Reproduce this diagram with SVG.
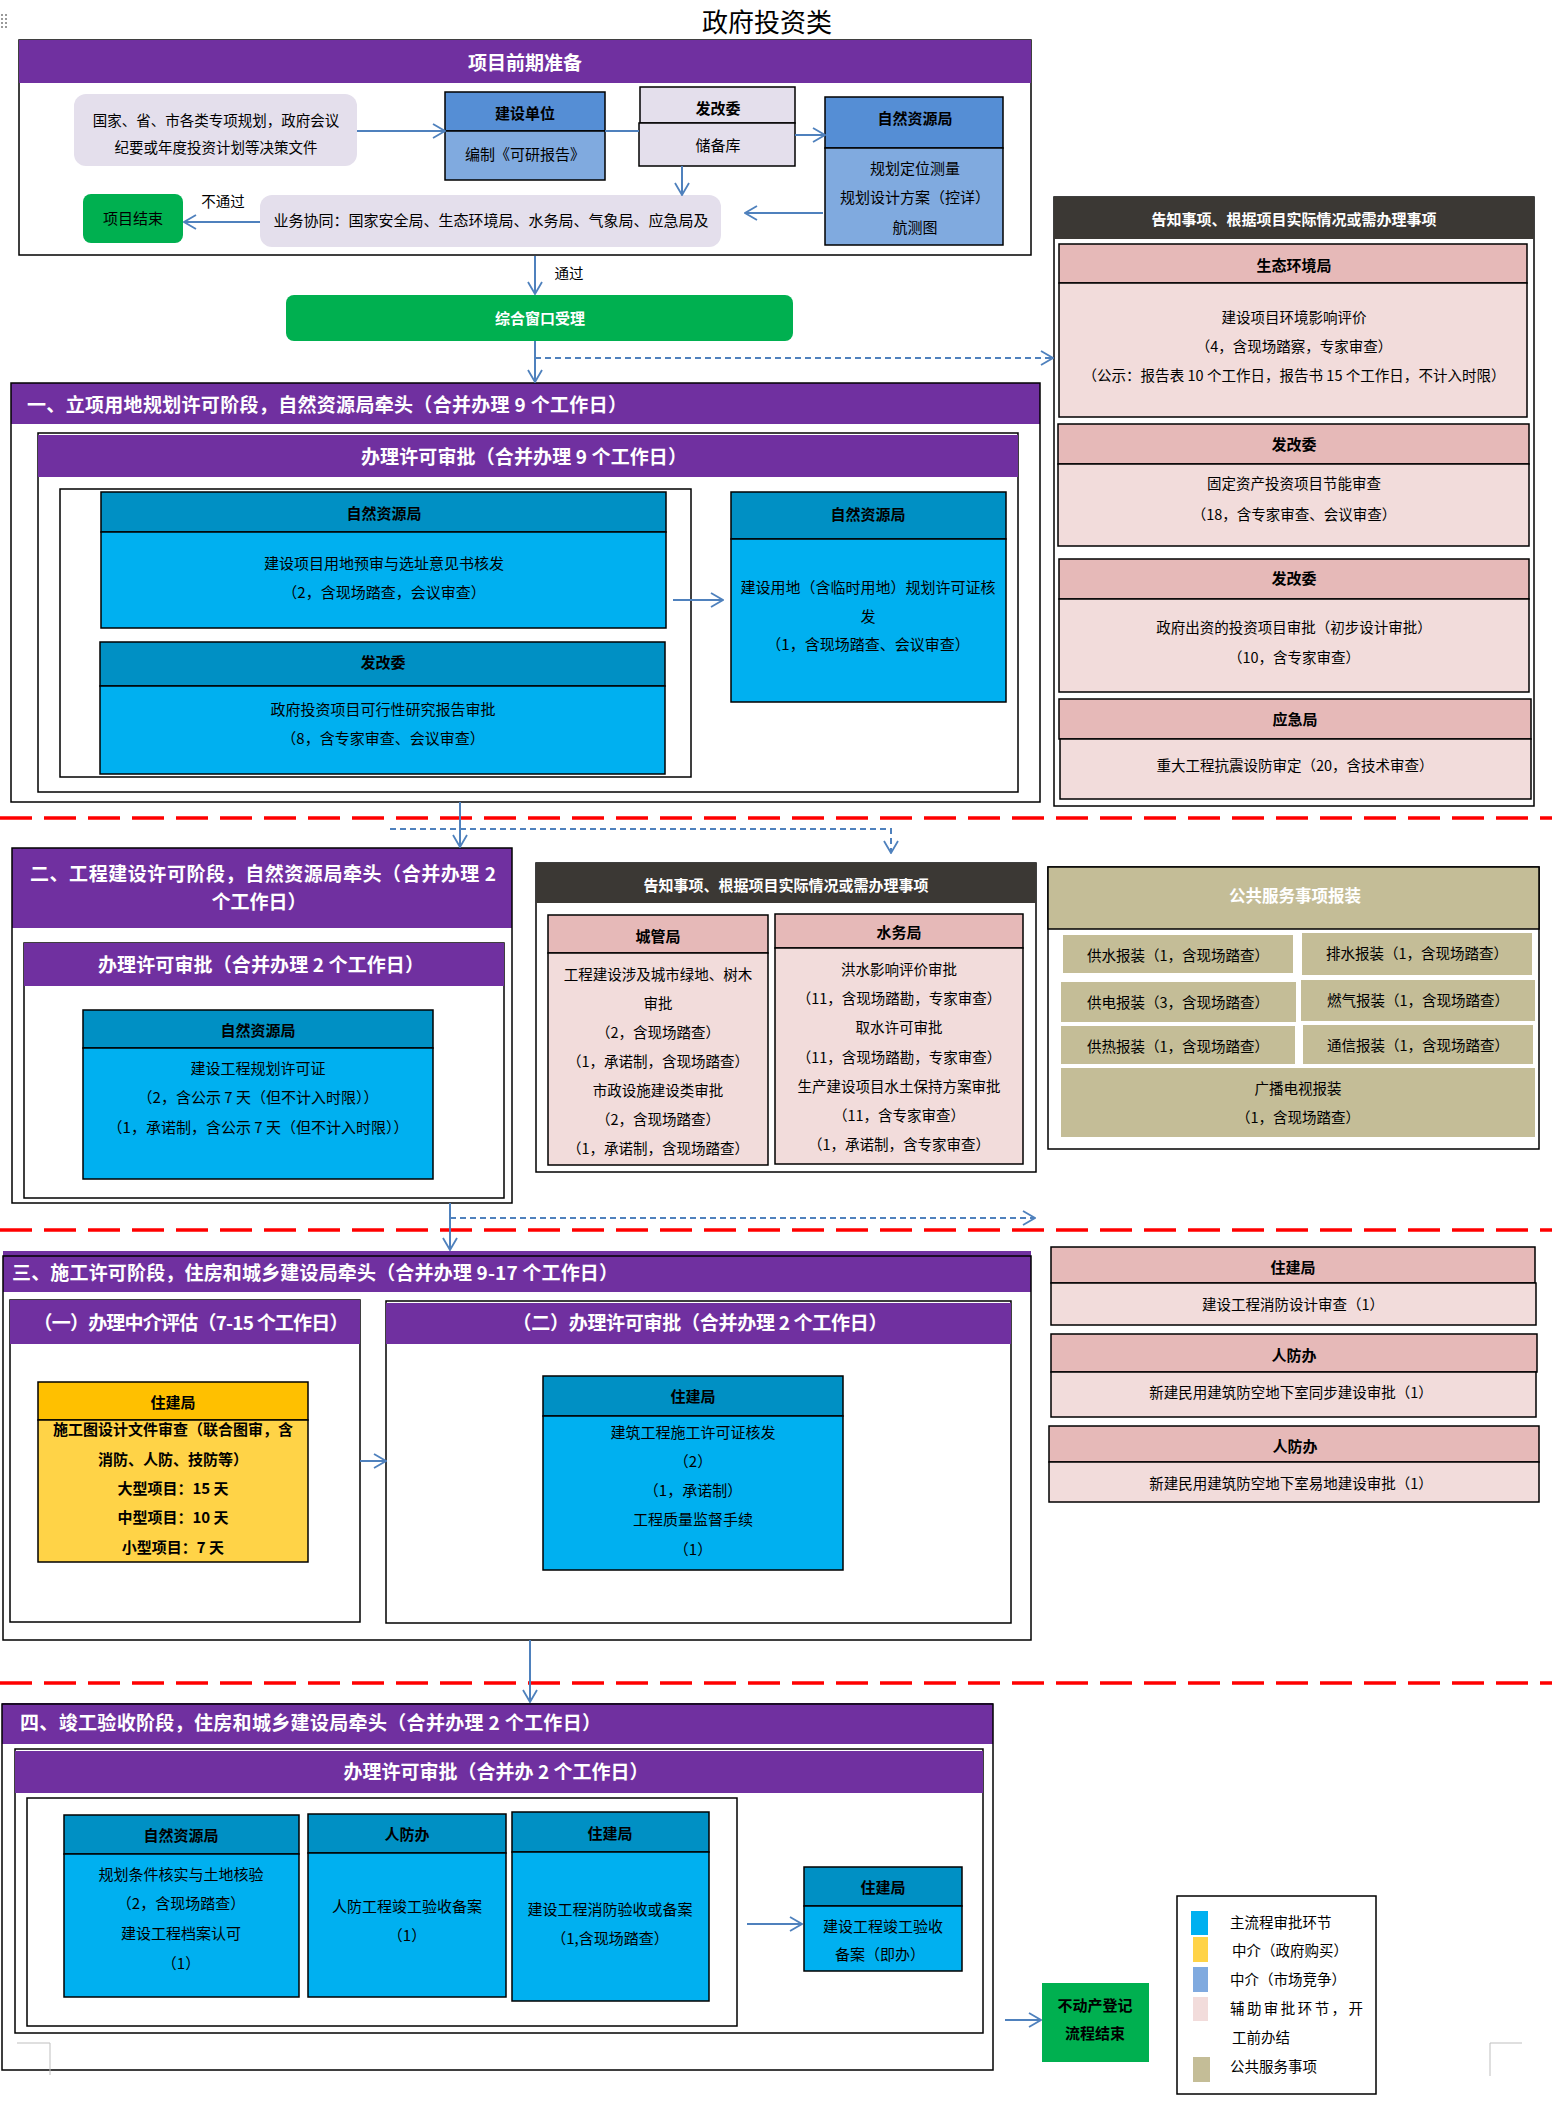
<svg xmlns="http://www.w3.org/2000/svg" width="1552" height="2105" viewBox="0 0 1552 2105">
<style>
text{font-family:"Noto Sans CJK SC","Liberation Sans",sans-serif;dominant-baseline:central;fill:#000;font-size:15px;text-anchor:middle}
.l{text-anchor:start}
.b{font-weight:bold}
.w{fill:#fff}
.h{font-size:19px;font-weight:bold;fill:#fff}
.s{font-size:14.5px}
.tt{font-size:26px}
.ph{font-size:16.5px}
.bx{stroke:#000;stroke-width:1.5}
.ol{fill:none;stroke:#000;stroke-width:1.5}
.pu{fill:#7030A0}
.dk{fill:#3B3834}
.c1{fill:#0090C4}
.c2{fill:#00B0F0}
.m1{fill:#558ED5}
.m2{fill:#80AADF}
.lv{fill:#E4DFEC}
.p1{fill:#E6B9B8}
.p2{fill:#F2DCDB}
.kh{fill:#C4BD97}
.gr{fill:#00B050}
.y1{fill:#FFC000}
.y2{fill:#FFD347}
.ln{stroke:#4F81BD;stroke-width:2;fill:none}
.dl{stroke:#4F81BD;stroke-width:2;fill:none;stroke-dasharray:6 4}
.red{stroke:#FF0000;stroke-width:3.5;stroke-dasharray:32 12;fill:none}
.cm{stroke:#BFBFBF;stroke-width:1;fill:none}
</style>
<defs>
<marker id="a" viewBox="0 0 14 16" refX="13" refY="8" markerWidth="14" markerHeight="16" orient="auto" markerUnits="userSpaceOnUse"><path d="M1,1 L13,8 L1,15" fill="none" stroke="#4F81BD" stroke-width="1.8"/></marker>
</defs>
<rect width="1552" height="2105" fill="#fff"/>
<g id="handle" fill="#9A9A9A">
<rect x="1" y="14" width="2" height="2"/><rect x="5" y="14" width="2" height="2"/>
<rect x="1" y="18" width="2" height="2"/><rect x="5" y="18" width="2" height="2"/>
<rect x="1" y="22" width="2" height="2"/><rect x="5" y="22" width="2" height="2"/>
<rect x="1" y="26" width="2" height="2"/><rect x="5" y="26" width="2" height="2"/>
</g>
<text id="title" class="tt" x="767" y="20">政府投资类</text>

<g id="sec0">
<rect class="bx" x="19" y="40" width="1012" height="215" fill="#fff"/>
<rect class="pu" x="19" y="40" width="1012" height="43"/>
<text class="h" x="525" y="61">项目前期准备</text>
</g>
<g id="n-plan">
<rect class="lv" x="74" y="94" width="283" height="72" rx="12"/>
<text class="s" x="216" y="119">国家、省、市各类专项规划，政府会议</text>
<text class="s" x="216" y="146">纪要或年度投资计划等决策文件</text>
</g>
<g id="n-jsdw">
<rect class="bx m1" x="445" y="92" width="160" height="39"/>
<rect class="bx m2" x="445" y="131" width="160" height="49"/>
<text class="b" x="525" y="112">建设单位</text>
<text x="525" y="153">编制《可研报告》</text>
</g>
<g id="n-fgw0">
<rect class="bx lv" x="640" y="87" width="155" height="36"/>
<rect class="bx lv" x="639" y="123" width="156" height="43"/>
<text class="b" x="718" y="107">发改委</text>
<text x="718" y="144">储备库</text>
</g>
<g id="n-zrzy0">
<rect class="bx m1" x="825" y="97" width="178" height="51"/>
<rect class="bx m2" x="825" y="148" width="178" height="97"/>
<text class="b" x="915" y="117">自然资源局</text>
<text x="915" y="167">规划定位测量</text>
<text x="915" y="196">规划设计方案（控详）</text>
<text x="915" y="226">航测图</text>
</g>
<g id="n-end0">
<rect class="gr" x="83" y="194" width="100" height="49" rx="8"/>
<text x="133" y="217">项目结束</text>
</g>
<g id="n-xt">
<rect class="lv" x="260" y="195" width="461" height="52" rx="12"/>
<text x="491" y="219">业务协同：国家安全局、生态环境局、水务局、气象局、应急局及</text>
</g>
<g id="n-zhck">
<rect class="gr" x="286" y="295" width="507" height="46" rx="8"/>
<text class="b w" x="540" y="317">综合窗口受理</text>
</g>

<g id="notice1">
<rect class="bx" x="1054" y="197" width="480" height="609" fill="#fff"/>
<rect class="dk" x="1054" y="197" width="480" height="42"/>
<text class="b w" x="1294" y="218">告知事项、根据项目实际情况或需办理事项</text>
</g>
<g id="n-sthj">
<rect class="bx p1" x="1059" y="244" width="468" height="39"/>
<rect class="bx p2" x="1059" y="283" width="468" height="134"/>
<text class="b" x="1294" y="264">生态环境局</text>
<text class="s" x="1294" y="316">建设项目环境影响评价</text>
<text class="s" x="1294" y="345">（4，含现场踏察，专家审查）</text>
<text class="s" x="1294" y="374" textLength="423">（公示：报告表 10 个工作日，报告书 15 个工作日，不计入时限）</text>
</g>
<g id="n-fgw1">
<rect class="bx p1" x="1058" y="424" width="471" height="40"/>
<rect class="bx p2" x="1058" y="464" width="471" height="82"/>
<text class="b" x="1294" y="443">发改委</text>
<text class="s" x="1294" y="482">固定资产投资项目节能审查</text>
<text class="s" x="1294" y="513">（18，含专家审查、会议审查）</text>
</g>
<g id="n-fgw2">
<rect class="bx p1" x="1059" y="559" width="470" height="40"/>
<rect class="bx p2" x="1059" y="599" width="470" height="93"/>
<text class="b" x="1294" y="577">发改委</text>
<text class="s" x="1294" y="626">政府出资的投资项目审批（初步设计审批）</text>
<text class="s" x="1294" y="656">（10，含专家审查）</text>
</g>
<g id="n-yjj">
<rect class="bx p1" x="1059" y="699" width="472" height="40"/>
<rect class="bx p2" x="1060" y="739" width="471" height="60"/>
<text class="b" x="1295" y="718">应急局</text>
<text class="s" x="1295" y="764">重大工程抗震设防审定（20，含技术审查）</text>
</g>

<g id="sec1">
<rect x="11" y="383" width="1029" height="419" fill="#fff"/>
<rect class="pu" x="11" y="383" width="1029" height="41"/>
<rect class="ol" x="11" y="383" width="1029" height="419"/>
<text class="h l" x="27" y="403" textLength="600">一、立项用地规划许可阶段，自然资源局牵头（合并办理 9 个工作日）</text>
<rect class="ol" x="38" y="433" width="980" height="359"/>
<rect class="pu" x="38" y="435" width="980" height="42"/>
<text class="h" x="524" y="455" textLength="326">办理许可审批（合并办理 9 个工作日）</text>
<rect class="ol" x="60" y="489" width="631" height="288"/>
</g>
<g id="n-zrzy1">
<rect class="bx c1" x="101" y="492" width="565" height="40"/>
<rect class="bx c2" x="101" y="532" width="565" height="96"/>
<text class="b" x="384" y="512">自然资源局</text>
<text x="384" y="562">建设项目用地预审与选址意见书核发</text>
<text x="384" y="591">（2，含现场踏查，会议审查）</text>
</g>
<g id="n-fgw3">
<rect class="bx c1" x="100" y="642" width="565" height="44"/>
<rect class="bx c2" x="100" y="686" width="565" height="88"/>
<text class="b" x="383" y="661">发改委</text>
<text x="383" y="708">政府投资项目可行性研究报告审批</text>
<text x="383" y="737">（8，含专家审查、会议审查）</text>
</g>
<g id="n-zrzy2">
<rect class="bx c1" x="731" y="492" width="275" height="47"/>
<rect class="bx c2" x="731" y="539" width="275" height="163"/>
<text class="b" x="868" y="513">自然资源局</text>
<text x="868" y="586">建设用地（含临时用地）规划许可证核</text>
<text x="868" y="615">发</text>
<text x="868" y="643">（1，含现场踏查、会议审查）</text>
</g>

<g id="sec2">
<rect x="12" y="848" width="500" height="355" fill="#fff"/>
<rect class="pu" x="12" y="848" width="500" height="80"/>
<rect class="ol" x="12" y="848" width="500" height="355"/>
<text class="h" x="263" y="872" textLength="466">二、工程建设许可阶段，自然资源局牵头（合并办理 2</text>
<text class="h" x="259" y="900">个工作日）</text>
<rect class="ol" x="24" y="943" width="480" height="255"/>
<rect class="pu" x="24" y="943" width="480" height="43"/>
<text class="h" x="261" y="963" textLength="326">办理许可审批（合并办理 2 个工作日）</text>
</g>
<g id="n-zrzy3">
<rect class="bx c1" x="83" y="1010" width="350" height="38"/>
<rect class="bx c2" x="83" y="1048" width="350" height="131"/>
<text class="b" x="258" y="1029">自然资源局</text>
<text x="258" y="1067">建设工程规划许可证</text>
<text x="258" y="1096">（2，含公示 7 天（但不计入时限））</text>
<text x="258" y="1126">（1，承诺制，含公示 7 天（但不计入时限））</text>
</g>

<g id="notice2">
<rect class="bx" x="536" y="863" width="500" height="309" fill="#fff"/>
<rect class="dk" x="536" y="863" width="500" height="40"/>
<text class="b w" x="786" y="884">告知事项、根据项目实际情况或需办理事项</text>
</g>
<g id="n-cgj">
<rect class="bx p1" x="548" y="915" width="220" height="38"/>
<rect class="bx p2" x="548" y="953" width="220" height="212"/>
<text class="b" x="658" y="935">城管局</text>
<text class="s" x="658" y="973">工程建设涉及城市绿地、树木</text>
<text class="s" x="658" y="1002">审批</text>
<text class="s" x="658" y="1031">（2，含现场踏查）</text>
<text class="s" x="658" y="1060">（1，承诺制，含现场踏查）</text>
<text class="s" x="658" y="1089">市政设施建设类审批</text>
<text class="s" x="658" y="1118">（2，含现场踏查）</text>
<text class="s" x="658" y="1147">（1，承诺制，含现场踏查）</text>
</g>
<g id="n-swj">
<rect class="bx p1" x="775" y="914" width="248" height="34"/>
<rect class="bx p2" x="775" y="948" width="248" height="216"/>
<text class="b" x="899" y="931">水务局</text>
<text class="s" x="899" y="968">洪水影响评价审批</text>
<text class="s" x="899" y="997">（11，含现场踏勘，专家审查）</text>
<text class="s" x="899" y="1026">取水许可审批</text>
<text class="s" x="899" y="1056">（11，含现场踏勘，专家审查）</text>
<text class="s" x="899" y="1085">生产建设项目水土保持方案审批</text>
<text class="s" x="899" y="1114">（11，含专家审查）</text>
<text class="s" x="899" y="1143">（1，承诺制，含专家审查）</text>
</g>

<g id="public">
<rect class="bx" x="1048" y="867" width="491" height="282" fill="#fff"/>
<rect class="bx kh" x="1048" y="867" width="491" height="62"/>
<text class="b w ph" x="1295" y="895">公共服务事项报装</text>
<rect class="kh" x="1063" y="935" width="230" height="38"/>
<text class="s" x="1178" y="954">供水报装（1，含现场踏查）</text>
<rect class="kh" x="1302" y="933" width="230" height="42"/>
<text class="s" x="1417" y="952">排水报装（1，含现场踏查）</text>
<rect class="kh" x="1061" y="982" width="235" height="40"/>
<text class="s" x="1178" y="1001">供电报装（3，含现场踏查）</text>
<rect class="kh" x="1301" y="980" width="234" height="41"/>
<text class="s" x="1418" y="999">燃气报装（1，含现场踏查）</text>
<rect class="kh" x="1061" y="1026" width="234" height="38"/>
<text class="s" x="1178" y="1045">供热报装（1，含现场踏查）</text>
<rect class="kh" x="1303" y="1025" width="230" height="39"/>
<text class="s" x="1418" y="1044">通信报装（1，含现场踏查）</text>
<rect class="kh" x="1061" y="1068" width="474" height="69"/>
<text class="s" x="1298" y="1087">广播电视报装</text>
<text class="s" x="1298" y="1116">（1，含现场踏查）</text>
</g>

<g id="sec3">
<rect x="3" y="1251" width="1028" height="389" fill="#fff"/>
<rect class="pu" x="3" y="1251" width="1028" height="41"/>
<rect class="ol" x="3" y="1256" width="1028" height="384"/>
<text class="h l" x="12" y="1271" textLength="606">三、施工许可阶段，住房和城乡建设局牵头（合并办理 9-17 个工作日）</text>
<rect class="ol" x="10" y="1300" width="350" height="322"/>
<rect class="pu" x="10" y="1300" width="350" height="44"/>
<text class="h" x="191" y="1321" textLength="315">（一）办理中介评估（7-15 个工作日）</text>
<rect class="ol" x="386" y="1301" width="625" height="322"/>
<rect class="pu" x="386" y="1303" width="625" height="41"/>
<text class="h" x="700" y="1321" textLength="375">（二）办理许可审批（合并办理 2 个工作日）</text>
</g>
<g id="n-zjj-y">
<rect class="bx y1" x="38" y="1382" width="270" height="38"/>
<rect class="bx y2" x="38" y="1420" width="270" height="142"/>
<text class="b" x="173" y="1401">住建局</text>
<text class="b" x="173" y="1428">施工图设计文件审查（联合图审，含</text>
<text class="b" x="173" y="1458">消防、人防、技防等）</text>
<text class="b" x="173" y="1487">大型项目：15 天</text>
<text class="b" x="173" y="1516">中型项目：10 天</text>
<text class="b" x="173" y="1546">小型项目：7 天</text>
</g>
<g id="n-zjj-b">
<rect class="bx c1" x="543" y="1376" width="300" height="40"/>
<rect class="bx c2" x="543" y="1416" width="300" height="154"/>
<text class="b" x="693" y="1395">住建局</text>
<text x="693" y="1431">建筑工程施工许可证核发</text>
<text x="693" y="1460">（2）</text>
<text x="693" y="1489">（1，承诺制）</text>
<text x="693" y="1518">工程质量监督手续</text>
<text x="693" y="1548">（1）</text>
</g>
<g id="n-zjj-p">
<rect class="bx p1" x="1051" y="1247" width="484" height="36"/>
<rect class="bx p2" x="1051" y="1283" width="485" height="42"/>
<text class="b" x="1293" y="1266">住建局</text>
<text class="s" x="1293" y="1303">建设工程消防设计审查（1）</text>
</g>
<g id="n-rfb1">
<rect class="bx p1" x="1051" y="1334" width="486" height="38"/>
<rect class="bx p2" x="1051" y="1372" width="485" height="45"/>
<text class="b" x="1294" y="1354">人防办</text>
<text class="s" x="1291" y="1391">新建民用建筑防空地下室同步建设审批（1）</text>
</g>
<g id="n-rfb2">
<rect class="bx p1" x="1049" y="1426" width="490" height="36"/>
<rect class="bx p2" x="1049" y="1462" width="490" height="40"/>
<text class="b" x="1295" y="1445">人防办</text>
<text class="s" x="1291" y="1482">新建民用建筑防空地下室易地建设审批（1）</text>
</g>

<g id="sec4">
<rect x="2" y="1703" width="991" height="367" fill="#fff"/>
<rect class="pu" x="2" y="1703" width="991" height="41"/>
<rect class="ol" x="2" y="1704" width="991" height="366"/>
<text class="h l" x="20" y="1721" textLength="581">四、竣工验收阶段，住房和城乡建设局牵头（合并办理 2 个工作日）</text>
<rect class="ol" x="15" y="1749" width="968" height="284"/>
<rect class="pu" x="15" y="1751" width="968" height="42"/>
<text class="h" x="496" y="1770" textLength="305">办理许可审批（合并办 2 个工作日）</text>
<rect class="ol" x="27" y="1798" width="710" height="228"/>
</g>
<g id="n-zrzy4">
<rect class="bx c1" x="64" y="1815" width="235" height="39"/>
<rect class="bx c2" x="64" y="1854" width="235" height="143"/>
<text class="b" x="181" y="1834">自然资源局</text>
<text x="181" y="1873">规划条件核实与土地核验</text>
<text x="181" y="1902">（2，含现场踏查）</text>
<text x="181" y="1932">建设工程档案认可</text>
<text x="181" y="1962">（1）</text>
</g>
<g id="n-rfb3">
<rect class="bx c1" x="308" y="1814" width="198" height="39"/>
<rect class="bx c2" x="308" y="1853" width="198" height="144"/>
<text class="b" x="407" y="1833">人防办</text>
<text x="407" y="1905">人防工程竣工验收备案</text>
<text x="407" y="1934">（1）</text>
</g>
<g id="n-zjj4">
<rect class="bx c1" x="512" y="1812" width="197" height="40"/>
<rect class="bx c2" x="512" y="1852" width="197" height="149"/>
<text class="b" x="610" y="1832">住建局</text>
<text x="610" y="1908">建设工程消防验收或备案</text>
<text x="610" y="1937">（1,含现场踏查）</text>
</g>
<g id="n-zjj5">
<rect class="bx c1" x="804" y="1867" width="158" height="39"/>
<rect class="bx c2" x="804" y="1906" width="158" height="65"/>
<text class="b" x="883" y="1886">住建局</text>
<text x="883" y="1925">建设工程竣工验收</text>
<text x="880" y="1953">备案（即办）</text>
</g>
<g id="n-end">
<rect class="gr" x="1042" y="1983" width="107" height="79"/>
<text class="b" x="1095" y="2004">不动产登记</text>
<text class="b" x="1095" y="2032">流程结束</text>
</g>

<g id="legend">
<rect class="ol" x="1177" y="1896" width="199" height="198" fill="#fff"/>
<rect class="c2" x="1191" y="1911" width="17" height="24"/>
<text class="s l" x="1230" y="1921">主流程审批环节</text>
<rect class="y2" x="1193" y="1937" width="15" height="25"/>
<text class="s l" x="1232" y="1949">中介（政府购买）</text>
<rect class="m2" x="1193" y="1967" width="15" height="25"/>
<text class="s l" x="1230" y="1978">中介（市场竞争）</text>
<rect class="p2" x="1193" y="1997" width="15" height="24"/>
<text class="s l" x="1230" y="2007" textLength="133">辅助审批环节，开</text>
<text class="s l" x="1232" y="2036">工前办结</text>
<rect class="kh" x="1193" y="2057" width="17" height="25"/>
<text class="s l" x="1230" y="2065">公共服务事项</text>
</g>

<g id="separators">
<line class="red" x1="0" y1="818" x2="1552" y2="818"/>
<line class="red" x1="0" y1="1230" x2="1552" y2="1230"/>
<line class="red" x1="0" y1="1683" x2="1552" y2="1683"/>
</g>
<g id="corners">
<path class="cm" d="M17,2043 H50 V2075"/>
<path class="cm" d="M1522,2043 H1490 V2076"/>
</g>

<g id="connectors">
<path class="ln" d="M357,131 H445" marker-end="url(#a)"/>
<path class="ln" d="M605,131 H639"/>
<path class="ln" d="M795,135 H825" marker-end="url(#a)"/>
<path class="ln" d="M682,166 V195" marker-end="url(#a)"/>
<path class="ln" d="M823,213 H745" marker-end="url(#a)"/>
<path class="ln" d="M260,222 H184" marker-end="url(#a)"/>
<text class="s" x="223" y="200">不通过</text>
<path class="ln" d="M535,256 V294" marker-end="url(#a)"/>
<text class="s" x="569" y="272">通过</text>
<path class="ln" d="M535,341 V382" marker-end="url(#a)"/>
<path class="dl" d="M535,358 H1053" marker-end="url(#a)"/>
<path class="ln" d="M673,600 H723" marker-end="url(#a)"/>
<path class="ln" d="M460,802 V847" marker-end="url(#a)"/>
<path class="dl" d="M390,829 H891 V853" marker-end="url(#a)"/>
<path class="ln" d="M450,1203 V1250" marker-end="url(#a)"/>
<path class="dl" d="M450,1218 H1035" marker-end="url(#a)"/>
<path class="ln" d="M360,1461 H386" marker-end="url(#a)"/>
<path class="ln" d="M530,1640 V1702" marker-end="url(#a)"/>
<path class="ln" d="M747,1924 H802" marker-end="url(#a)"/>
<path class="ln" d="M1005,2020 H1041" marker-end="url(#a)"/>
</g>
</svg>
